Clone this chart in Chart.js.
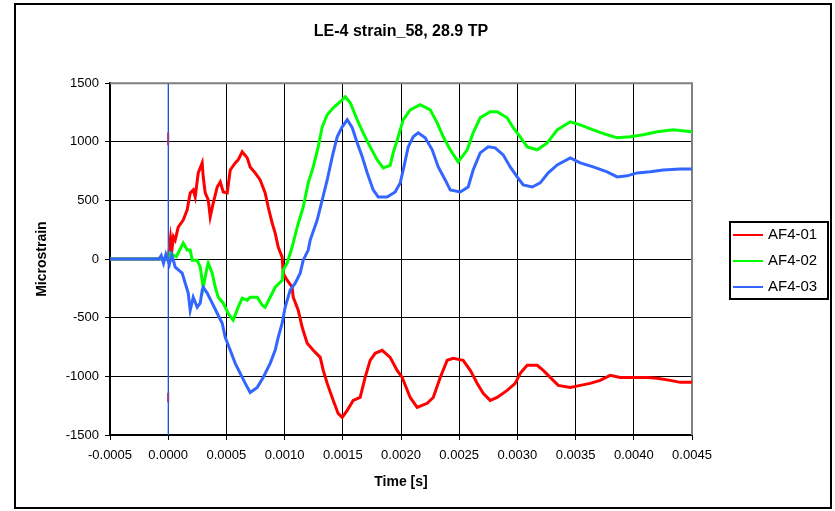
<!DOCTYPE html>
<html>
<head>
<meta charset="utf-8">
<script src="https://cdn.jsdelivr.net/npm/chart.js@4.4.0/dist/chart.umd.min.js"></script>
<style>
  html, body { margin: 0; padding: 0; background: #fff; }
</style>
</head>
<body>
<canvas id="chartStrain" width="835" height="511"></canvas>
<script>
// Dados (tempo em segundos, deformação em microstrain)
var tituloGrafico = 'LE-4 strain_58, 28.9 TP';
var nomesSeries = ['AF4-01', 'AF4-02', 'AF4-03'];
var coresSeries = ['#FF0000', '#00FF00', '#3366FF'];
var ticksY = [-1500, -1000, -500, 0, 500, 1000, 1500];

var tempoAF401 = [-0.0005, -0.0001, 0, 0.00002, 0.000032, 0.000045, 0.00006, 0.000086, 0.000129, 0.000163,
  0.000189, 0.000215, 0.000232, 0.000258, 0.000292, 0.000301, 0.000318, 0.000344, 0.000361, 0.000387,
  0.000421, 0.000447, 0.000473, 0.000507, 0.000533, 0.000576, 0.000601, 0.000636, 0.000679, 0.000704,
  0.000747, 0.00079, 0.000833, 0.000859, 0.000893, 0.000919, 0.000945, 0.000979, 0.000988, 0.001022,
  0.001065, 0.001074, 0.001117, 0.001151, 0.001194, 0.001246, 0.001306, 0.001332, 0.001366, 0.001418,
  0.00146, 0.001495, 0.001538, 0.001589, 0.001649, 0.001692, 0.001735, 0.001778, 0.001838, 0.001907,
  0.001967, 0.00201, 0.002079, 0.002139, 0.002225, 0.002277, 0.002337, 0.002397, 0.002448, 0.002534,
  0.002595, 0.002655, 0.002706, 0.002766, 0.002826, 0.002912, 0.002981, 0.003024, 0.003084, 0.00317,
  0.003222, 0.003282, 0.003351, 0.003454, 0.00354, 0.003625, 0.003711, 0.003797, 0.003883, 0.003995,
  0.004115, 0.004201, 0.004313, 0.004399, 0.0045];
var strainAF401 = [0, 0, 0, 180, 80, 190, 162, 273, 333, 420,
  564, 590, 530, 735, 820, 700, 564, 504, 360, 478,
  615, 658, 573, 564, 760, 820, 846, 915, 863, 786,
  735, 675, 564, 444, 308, 222, 103, 17, -120, -180,
  -240, -325, -436, -581, -718, -778, -838, -949, -1060, -1205,
  -1316, -1350, -1290, -1205, -1180, -1009, -863, -803, -778, -838,
  -949, -1009, -1180, -1265, -1230, -1180, -1009, -863, -846, -863,
  -949, -1060, -1145, -1205, -1180, -1120, -1060, -974, -906, -906,
  -949, -1009, -1077, -1094, -1077, -1060, -1034, -991, -1009, -1009,
  -1009, -1017, -1034, -1051, -1051];

var tempoAF402 = [-0.0005, 0, 0.000017, 0.00007, 0.000129, 0.000163, 0.000189, 0.000206, 0.000249, 0.000275,
  0.000292, 0.000301, 0.000335, 0.000344, 0.000378, 0.000404, 0.00043, 0.000473, 0.000515, 0.000558,
  0.000601, 0.000636, 0.000679, 0.000704, 0.000765, 0.000808, 0.000833, 0.000876, 0.000919, 0.000979,
  0.000988, 0.001022, 0.001065, 0.001108, 0.00116, 0.001203, 0.001246, 0.001289, 0.001323, 0.001366,
  0.001418, 0.001478, 0.001521, 0.001564, 0.001624, 0.001675, 0.001735, 0.001796, 0.001847, 0.001907,
  0.001933, 0.001976, 0.002019, 0.002079, 0.002165, 0.002251, 0.002311, 0.002363, 0.002423, 0.002491,
  0.002569, 0.00262, 0.00268, 0.002766, 0.002826, 0.002912, 0.002964, 0.003024, 0.003084, 0.00317,
  0.003256, 0.003342, 0.003454, 0.00354, 0.003651, 0.003771, 0.003857, 0.003969, 0.004081, 0.004201,
  0.004338, 0.0045];
var strainAF402 = [0, 0, 51, 20, 137, 77, 77, -9, -9, -68,
  -180, -240, -68, -34, -120, -240, -325, -376, -462, -521,
  -410, -333, -350, -325, -325, -393, -410, -325, -240, -180,
  -94, -34, 103, 273, 444, 650, 786, 957, 1128, 1231,
  1290, 1342, 1385, 1333, 1188, 1077, 957, 846, 778, 800,
  906, 1043, 1188, 1273, 1316, 1273, 1162, 1043, 932, 829,
  932, 1077, 1205, 1256, 1256, 1205, 1120, 1043, 957, 932,
  991, 1102, 1171, 1145, 1102, 1060, 1034, 1043, 1060, 1086,
  1102, 1086];

var tempoAF403 = [-0.0005, -0.00008, -0.00006, -0.00004, -0.00002, 0.00001, 0.00003, 0.00005, 0.00006, 0.00012,
  0.000146, 0.000172, 0.000189, 0.000215, 0.000249, 0.000275, 0.000292, 0.000301, 0.000335, 0.000378,
  0.000421, 0.000464, 0.00049, 0.000533, 0.000576, 0.000619, 0.000662, 0.000704, 0.000765, 0.000816,
  0.000876, 0.000919, 0.000945, 0.000979, 0.001005, 0.001048, 0.001091, 0.001134, 0.00116, 0.001203,
  0.00122, 0.00128, 0.001323, 0.001366, 0.001409, 0.001452, 0.001495, 0.001538, 0.001581, 0.001624,
  0.001667, 0.00171, 0.001761, 0.001804, 0.001881, 0.00195, 0.001993, 0.002019, 0.002062, 0.002105,
  0.002148, 0.002208, 0.002268, 0.00232, 0.00238, 0.002423, 0.002509, 0.002577, 0.00262, 0.00268,
  0.002749, 0.002809, 0.002878, 0.002938, 0.002998, 0.00305, 0.003127, 0.003196, 0.003265, 0.003342,
  0.003454, 0.00354, 0.003651, 0.003771, 0.003857, 0.003943, 0.004029, 0.004141, 0.004253, 0.004399,
  0.0045];
var strainAF403 = [0, 0, 30, -35, 40, -45, 35, -30, -68, -120,
  -205, -290, -436, -325, -410, -376, -265, -240, -290, -376,
  -462, -547, -667, -778, -889, -974, -1060, -1137, -1094, -1009,
  -889, -778, -667, -547, -410, -265, -205, -120, -9, 77,
  162, 333, 504, 675, 872, 1043, 1128, 1188, 1120, 991,
  872, 735, 590, 530, 530, 573, 650, 760, 957, 1043,
  1077, 1034, 932, 786, 675, 590, 573, 615, 760, 906,
  957, 949, 889, 786, 701, 632, 615, 650, 735, 803,
  863, 820, 786, 744, 701, 710, 735, 744, 760, 769,
  769];

// Pico do gatilho em t = 0 (traço fino)
var tempoPicoAzul = [0, 0];
var strainPicoAzul = [1500, -1500];
var tempoPicoVermelho = [0, 0, 0, 0, 0];
var strainPicoVermelho = [1080, 970, null, -1140, -1220];

function montarPontos(tempos, valores) {
    return tempos.map(function (t, i) { return { x: t, y: valores[i] }; });
}

Chart.defaults.font.family = '"Liberation Sans", Arial, sans-serif';
Chart.defaults.color = '#000';

// Fundo, moldura externa, moldura da área do gráfico e legenda com borda
var pluginMolduras = {
    id: 'molduras',
    beforeDraw: function (chart) {
        var ctx = chart.ctx;
        ctx.save();
        ctx.fillStyle = '#fff';
        ctx.fillRect(0, 0, chart.width, chart.height);
        ctx.restore();
    },
    beforeDatasetsDraw: function (chart) {
        var ctx = chart.ctx, a = chart.chartArea;
        ctx.save();
        ctx.strokeStyle = '#808080';
        ctx.lineWidth = 2;
        ctx.beginPath();
        ctx.moveTo(a.left, a.top);
        ctx.lineTo(a.right, a.top);
        ctx.lineTo(a.right, a.bottom);
        ctx.stroke();
        ctx.restore();
    },
    afterDraw: function (chart) {
        var ctx = chart.ctx, a = chart.chartArea;
        ctx.save();
        ctx.strokeStyle = '#000';
        ctx.lineWidth = 2;
        ctx.strokeRect(15, 4, 816, 504);

        // legenda
        var series = chart.data.datasets.filter(function (d) { return !d.semLegenda; });
        var bx = a.right + 38, by = 222, bw = 98, bh = 77;
        ctx.strokeRect(bx, by, bw, bh);
        ctx.font = '15px "Liberation Sans", Arial, sans-serif';
        ctx.textBaseline = 'middle';
        ctx.fillStyle = '#000';
        series.forEach(function (d, i) {
            var y = by + 13 + i * 26;
            ctx.strokeStyle = d.borderColor;
            ctx.lineWidth = 2;
            ctx.beginPath();
            ctx.moveTo(bx + 3, y);
            ctx.lineTo(bx + 33, y);
            ctx.stroke();
            ctx.fillText(d.label, bx + 38, y);
        });
        ctx.restore();
    }
};

var ctxStrain = document.getElementById('chartStrain').getContext('2d');
var chartStrain = new Chart(ctxStrain, {
    type: 'scatter',
    data: {
        datasets: [
            { label: 'pico', semLegenda: true, data: montarPontos(tempoPicoAzul, strainPicoAzul),
              borderColor: coresSeries[2], borderWidth: 1.2, showLine: true, pointRadius: 0, order: 0 },
            { label: 'pico', semLegenda: true, data: montarPontos(tempoPicoVermelho, strainPicoVermelho),
              borderColor: coresSeries[0], borderWidth: 2, showLine: true, pointRadius: 0, order: 0.5 },
            { label: nomesSeries[0], data: montarPontos(tempoAF401, strainAF401),
              borderColor: coresSeries[0], borderWidth: 3, showLine: true, pointRadius: 0, order: 3 },
            { label: nomesSeries[1], data: montarPontos(tempoAF402, strainAF402),
              borderColor: coresSeries[1], borderWidth: 3, showLine: true, pointRadius: 0, order: 2 },
            { label: nomesSeries[2], data: montarPontos(tempoAF403, strainAF403),
              borderColor: coresSeries[2], borderWidth: 3, showLine: true, pointRadius: 0, order: 1 }
        ]
    },
    options: {
        responsive: false,
        animation: false,
        events: [],
        layout: { padding: { left: 16, right: 143, top: 5, bottom: 8 } },
        plugins: {
            legend: { display: false },
            tooltip: { enabled: false },
            title: {
                display: true,
                text: tituloGrafico,
                fullSize: false,
                font: { size: 16, weight: 'bold' },
                color: '#000',
                padding: { top: 17, bottom: 42 }
            }
        },
        scales: {
            x: {
                type: 'linear',
                min: -0.0005,
                max: 0.0045,
                afterFit: function (scale) { scale.height = 68; },
                ticks: {
                    stepSize: 0.0005,
                    padding: 8,
                    font: { size: 13 },
                    color: '#000',
                    maxRotation: 0,
                    callback: function (v) {
                        if (Math.abs(v) < 1e-12) return '0.0000';
                        return v.toFixed(4);
                    }
                },
                grid: {
                    color: function (c) {
                        if (!c.tick) return '#000';
                        var v = c.tick.value;
                        return (Math.abs(v + 0.0005) < 1e-9 || Math.abs(v - 0.0045) < 1e-9) ? 'rgba(0,0,0,0)' : '#000';
                    },
                    tickColor: '#000',
                    tickLength: 5,
                    borderDash: [2, 2],
                    tickBorderDash: [],
                    lineWidth: 1
                },
                border: { display: true, color: '#000', width: 2 },
                title: {
                    display: true,
                    text: 'Time [s]',
                    font: { size: 14, weight: 'bold' },
                    color: '#000',
                    padding: { top: 0, bottom: 12 }
                }
            },
            y: {
                min: -1500,
                max: 1500,
                afterFit: function (scale) { scale.width = 94; },
                afterBuildTicks: function (scale) {
                    scale.ticks = ticksY.map(function (v) { return { value: v }; });
                },
                ticks: {
                    padding: 6,
                    font: { size: 13 },
                    color: '#000',
                    callback: function (v) { return String(v); }
                },
                grid: {
                    color: function (c) {
                        if (!c.tick) return '#000';
                        return (c.tick.value === 1500 || c.tick.value === -1500) ? 'rgba(0,0,0,0)' : '#000';
                    },
                    tickColor: '#000',
                    tickLength: 5,
                    borderDash: [2, 2],
                    tickBorderDash: [],
                    lineWidth: 1
                },
                border: { display: true, color: '#000', width: 2 },
                title: {
                    display: true,
                    text: 'Microstrain',
                    font: { size: 14, weight: 'bold' },
                    color: '#000',
                    padding: { top: 18, bottom: 0 }
                }
            }
        }
    },
    plugins: [pluginMolduras]
});
</script>
</body>
</html>
